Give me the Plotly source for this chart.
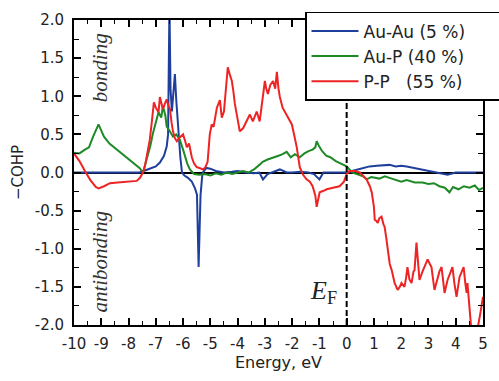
import plotly.graph_objects as go

# ---------------- data ----------------
auau_energy = [-10, -7.6, -7.3, -7.0, -6.85, -6.7, -6.6, -6.55, -6.5, -6.46,
               -6.41, -6.36, -6.3, -6.25, -6.19, -6.1, -6.04, -5.95, -5.82, -5.68,
               -5.57, -5.49, -5.43, -5.36, -5.3, -5.27, -5.15, -5.0, -4.8, -4.5,
               -4.2, -4.0, -3.7, -3.4, -3.2, -3.07, -2.9, -2.7, -2.45, -2.2,
               -2.0, -1.7, -1.4, -1.2, -1.0, -0.85, -0.6, -0.3, 0.0, 0.3,
               0.6, 0.84, 1.1, 1.4, 1.57, 1.8, 2.0, 2.2, 2.5, 2.78,
               3.1, 3.4, 3.7, 4.0, 4.5, 5.0]
auau_cohp = [0.0, 0.0, 0.04, 0.08, 0.13, 0.22, 0.34, 0.5, 2.2, 1.1,
             0.8, 1.0, 1.29, 0.95, 0.63, 0.2, 0.0, -0.04, -0.07, -0.12,
             -0.2, -0.29, -1.24, -0.3, -0.05, 0.0, 0.06, 0.05, 0.02, 0.0,
             0.01, 0.02, 0.0, -0.01, 0.0, -0.09, -0.02, 0.01, 0.04, 0.0,
             0.0, 0.01, 0.0, -0.02, -0.09, 0.0, 0.0, 0.0, 0.0, 0.03,
             0.06, 0.08, 0.09, 0.1, 0.1, 0.08, 0.09, 0.08, 0.06, 0.04,
             0.02, -0.01, -0.03, 0.0, 0.0, 0.0]

aup_energy = [-10, -9.8, -9.6, -9.45, -9.3, -9.2, -9.1, -9.0, -8.9, -8.7,
              -8.42, -8.1, -7.84, -7.6, -7.47, -7.35, -7.2, -7.1, -7.0, -6.9,
              -6.8, -6.74, -6.65, -6.6, -6.5, -6.37, -6.25, -6.12, -6.0, -5.93,
              -5.85, -5.75, -5.6, -5.4, -5.2, -5.0, -4.8, -4.6, -4.4, -4.2,
              -4.0, -3.8, -3.6, -3.4, -3.2, -3.08, -2.9, -2.7, -2.5, -2.35,
              -2.2, -2.05, -1.9, -1.72, -1.55, -1.4, -1.25, -1.15, -1.1, -1.02,
              -0.9, -0.75, -0.6, -0.4, -0.2, 0.0, 0.2, 0.4, 0.6, 0.73,
              0.9, 1.2, 1.4, 1.57, 1.8, 2.0, 2.2, 2.5, 2.78, 3.0,
              3.2, 3.4, 3.6, 3.77, 3.9, 4.1, 4.3, 4.5, 4.7, 4.85,
              5.0]
aup_cohp = [0.26, 0.25, 0.3, 0.33, 0.47, 0.55, 0.63, 0.55, 0.47, 0.38,
            0.3, 0.2, 0.13, 0.06, 0.0, 0.15, 0.35, 0.52, 0.65, 0.79,
            0.72, 0.87, 0.75, 0.6, 0.55, 0.47, 0.5, 0.43, 0.3, 0.21,
            0.12, 0.04, -0.02, -0.03, -0.02, -0.04, -0.01, -0.03, 0.0, -0.02,
            0.0, 0.02, 0.0, 0.04, 0.1, 0.14, 0.17, 0.2, 0.22, 0.24,
            0.27, 0.2, 0.24, 0.2, 0.25, 0.28, 0.3, 0.33, 0.41, 0.35,
            0.28, 0.22, 0.2, 0.15, 0.12, 0.08, 0.0, -0.03, -0.05, -0.09,
            -0.06, -0.08, -0.05, -0.07, -0.1, -0.12, -0.1, -0.13, -0.13, -0.15,
            -0.14, -0.18, -0.2, -0.26, -0.19, -0.22, -0.18, -0.2, -0.17, -0.23,
            -0.2]

pp_energy = [-10, -9.8, -9.6, -9.4, -9.2, -9.1, -8.9, -8.68, -8.4, -8.0,
             -7.7, -7.58, -7.47, -7.4, -7.3, -7.22, -7.15, -7.07, -7.0, -6.9,
             -6.85, -6.79, -6.74, -6.67, -6.6, -6.54, -6.48, -6.42, -6.37, -6.3,
             -6.23, -6.15, -6.0, -5.93, -5.86, -5.78, -5.68, -5.6, -5.5, -5.4,
             -5.27, -5.18, -5.1, -5.02, -4.95, -4.88, -4.76, -4.65, -4.58, -4.5,
             -4.43, -4.36, -4.3, -4.21, -4.15, -4.1, -4.0, -3.92, -3.8, -3.66,
             -3.55, -3.44, -3.3, -3.19, -3.1, -3.0, -2.95, -2.89, -2.8, -2.7,
             -2.62, -2.56, -2.5, -2.45, -2.35, -2.2, -2.1, -2.01, -1.9, -1.83,
             -1.72, -1.6, -1.47, -1.35, -1.25, -1.15, -1.1, -1.05, -0.99, -0.85,
             -0.73, -0.5, -0.26, -0.1, 0.0, 0.1, 0.3, 0.48, 0.6, 0.73,
             0.85, 0.92, 1.0, 1.03, 1.1, 1.14, 1.2, 1.28, 1.35, 1.39,
             1.45, 1.5, 1.58, 1.65, 1.76, 1.87, 1.95, 2.01, 2.12, 2.18,
             2.23, 2.3, 2.38, 2.45, 2.49, 2.56, 2.62, 2.67, 2.78, 2.86,
             2.97, 3.05, 3.11, 3.22, 3.33, 3.4, 3.48, 3.59, 3.7, 3.8,
             3.88, 3.95, 4.03, 4.14, 4.22, 4.29, 4.35, 4.4, 4.43, 4.5,
             4.58, 4.7, 4.8, 4.9, 5.0]
pp_cohp = [0.25, 0.15, 0.02, -0.1, -0.19, -0.21, -0.18, -0.14, -0.13, -0.12,
           -0.11, -0.07, 0.0, 0.08, 0.25, 0.43, 0.65, 0.92, 0.85, 0.79,
           0.99, 0.9, 0.83, 0.9, 0.96, 0.88, 0.83, 0.65, 0.54, 0.45,
           0.41, 0.45, 0.5, 0.42, 0.33, 0.38, 0.2, 0.12, 0.07, 0.06,
           0.04, 0.07, 0.14, 0.5, 0.63, 0.6, 0.85, 0.95, 0.72, 0.8,
           1.05, 1.38, 1.3, 1.2, 1.05, 0.9, 0.7, 0.54, 0.58, 0.67,
           0.76, 0.67, 0.8, 0.67, 0.9, 1.2, 1.1, 1.03, 1.15, 1.2,
           1.1, 1.32, 1.1, 0.99, 0.85, 0.76, 0.7, 0.63, 0.45, 0.33,
           0.07, -0.03, -0.09, -0.12, -0.18, -0.3, -0.45, -0.35, -0.26, -0.24,
           -0.22, -0.2, -0.18, -0.12, -0.02, 0.02, 0.02, 0.0, -0.04, -0.09,
           -0.18, -0.26, -0.45, -0.62, -0.64, -0.66, -0.6, -0.58, -0.68, -0.71,
           -0.85, -1.01, -1.2, -1.28, -1.45, -1.54, -1.5, -1.45, -1.5, -1.38,
           -1.24, -1.4, -1.45, -1.3, -1.28, -0.92, -1.2, -1.41, -1.3, -1.24,
           -1.14, -1.2, -1.24, -1.54, -1.37, -1.3, -1.24, -1.58, -1.41, -1.3,
           -1.24, -1.45, -1.63, -1.37, -1.3, -1.24, -1.45, -1.58, -1.45, -1.8,
           -2.1, -2.1, -2.05, -1.85, -1.63]

PAD = "\u00a0" * 6
series_names = ["Au-Au (5 %)", "Au-P (40 %)", "P-P\u00a0\u00a0\u00a0(55 %)"]
series_colors = ["#1f3f9c", "#1e8a26", "#ee2424"]

x_tickvals = list(range(-10, 6))
x_ticktext = [str(v) for v in x_tickvals]
y_tickvals = [2.0, 1.5, 1.0, 0.5, 0.0, -0.5, -1.0, -1.5, -2.0]
y_ticktext = ["2.0", "1.5", "1.0", "0.5", "0.0", "-0.5", "-1.0", "-1.5", "-2.0"]

assert len(auau_energy) == len(auau_cohp)
assert len(aup_energy) == len(aup_cohp)
assert len(pp_energy) == len(pp_cohp)

# ---------------- figure ----------------
fig = go.Figure()
for name, xs, ys, col in zip(series_names,
                             [auau_energy, aup_energy, pp_energy],
                             [auau_cohp, aup_cohp, pp_cohp],
                             series_colors):
    fig.add_trace(go.Scatter(x=xs, y=ys, mode="lines", name=name + PAD,
                             legendgroup=name,
                             line=dict(color=col, width=2)))

tickfont = dict(family="DejaVu Sans", size=15, color="#222")

fig.update_layout(
    width=499, height=381,
    margin=dict(l=74, r=16, t=20, b=56, autoexpand=False),
    paper_bgcolor="white", plot_bgcolor="white",
    showlegend=True,
    legend=dict(x=(305 - 74) / 409, xanchor="left",
                y=(325 - 13) / 304, yanchor="top",
                bgcolor="white", bordercolor="black", borderwidth=1.5,
                font=dict(family="DejaVu Sans", size=17, color="#222"),
                itemwidth=47, tracegroupgap=0),
    xaxis=dict(range=[-10, 5], tickmode="array", tickvals=x_tickvals,
               ticktext=x_ticktext, ticks="inside", ticklen=7, tickwidth=1.6,
               tickcolor="black", showline=True, linecolor="black",
               linewidth=1.8, mirror="ticks", showgrid=False, zeroline=False,
               tickfont=tickfont, ticklabelstandoff=4,
               minor=dict(ticks="inside", ticklen=4, tickwidth=1.3,
                          tickcolor="black", tickmode="linear", tick0=-10,
                          dtick=0.5, showgrid=False),
               title=dict(text="Energy, eV",
                          font=dict(family="DejaVu Sans", size=16, color="#222"),
                          standoff=5)),
    yaxis=dict(range=[-2, 2], tickmode="array", tickvals=y_tickvals,
               ticktext=y_ticktext, ticks="inside", ticklen=7, tickwidth=1.6,
               tickcolor="black", showline=True, linecolor="black",
               linewidth=1.8, mirror="ticks", showgrid=False,
               zeroline=True, zerolinecolor="black", zerolinewidth=1.5,
               tickfont=tickfont, ticklabelstandoff=5,
               minor=dict(ticks="inside", ticklen=5, tickwidth=1.3,
                          tickcolor="black", tickmode="linear", tick0=-2,
                          dtick=0.25, showgrid=False),
               title=dict(text="\u2212COHP",
                          font=dict(family="DejaVu Sans", size=15, color="#222"),
                          standoff=8)),
)

# Fermi level
fig.add_shape(type="line", xref="x", yref="y", x0=0, x1=0, y0=-2, y1=2,
              line=dict(color="black", width=2, dash="6px,3px"), layer="above")
# legend drop shadow (only its lower edge shows below the legend box)
fig.add_shape(type="rect", xref="paper", yref="paper",
              x0=(309 - 74) / 409, x1=1.2,
              y0=(325 - 101) / 304, y1=(325 - 30) / 304,
              line=dict(width=0), fillcolor="black", layer="above")

serif = dict(family="Liberation Serif", size=21, color="#333")
fig.add_annotation(x=-9.05, y=1.38, xref="x", yref="y", text="<i>bonding</i>",
                   textangle=-90, showarrow=False, font=serif)
fig.add_annotation(x=-9.05, y=-1.17, xref="x", yref="y", text="<i>antibonding</i>",
                   textangle=-90, showarrow=False, font=serif)
fig.add_annotation(x=-0.85, y=-1.57, xref="x", yref="y",
                   text="<i>E</i><sub>F</sub>", showarrow=False,
                   font=dict(family="Liberation Serif", size=26, color="#222"))

fig.write_html("out.html")
